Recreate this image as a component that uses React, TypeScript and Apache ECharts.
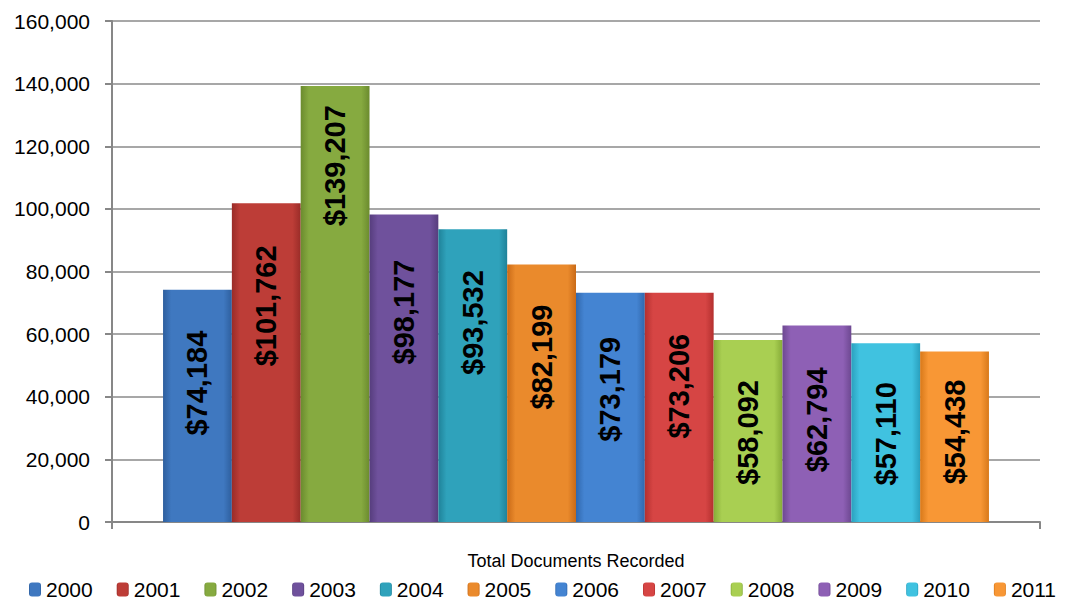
import React, { useEffect, useRef } from "react";
import * as echarts from "echarts";

const categories = ["Total Documents Recorded"];
const years = ["2000", "2001", "2002", "2003", "2004", "2005", "2006", "2007", "2008", "2009", "2010", "2011"];
const values = [74184, 101762, 139207, 98177, 93532, 82199, 73179, 73206, 58092, 62794, 57110, 54438];
const yTicks = { min: 0, max: 160000, interval: 20000 };

const barColors = [
  ["#2e5f9e", "#3f78c0"],
  ["#9a2c28", "#bd3d37"],
  ["#6b8b2e", "#86aa40"],
  ["#563d7d", "#6f519c"],
  ["#1f8299", "#2fa2bb"],
  ["#c96a17", "#ea8a2c"],
  ["#3168ad", "#4484d2"],
  ["#b4302f", "#d64544"],
  ["#86ab38", "#a9cf52"],
  ["#6d4891", "#8e60b5"],
  ["#2aa0be", "#40c2e0"],
  ["#d8791a", "#f89735"],
];
const labelDistances = [41, 42, 19, 45, 41, 40, 44, 41, 40, 42, 39, 28];

const FONT = "'Liberation Sans', Arial, sans-serif";

function grad(dark: string, light: string) {
  return new echarts.graphic.LinearGradient(0, 0, 1, 0, [
    { offset: 0, color: dark },
    { offset: 0.12, color: light },
    { offset: 0.88, color: light },
    { offset: 1, color: dark },
  ]);
}

export default function App() {
  const ref = useRef<HTMLDivElement>(null);
  useEffect(() => {
    document.body.style.margin = "0";
    if (!ref.current) return;
    const chart = echarts.init(ref.current, undefined, { renderer: "svg" });
    const series = years.map((y, i) => ({
      name: y,
      type: "bar",
      data: [values[i]],
      barGap: "0%",
      barCategoryGap: "11%",
      itemStyle: { color: grad(barColors[i][0], barColors[i][1]) },
      label: {
        show: true,
        position: "insideTop",
        distance: labelDistances[i],
        rotate: 90,
        align: "right",
        verticalAlign: "middle",
        color: "#000",
        fontFamily: FONT,
        fontWeight: "bold",
        fontSize: 29,
        formatter: (p: any) => "$" + Number(p.value).toLocaleString("en-US"),
      },
    }));
    chart.setOption({
      animation: false,
      grid: { left: 112, right: 30, top: 21, bottom: 80, containLabel: false },
      legend: {
        data: years,
        left: 24,
        top: 574,
        itemWidth: 12,
        itemHeight: 14,
        itemGap: 24,
        textStyle: { fontFamily: FONT, fontSize: 21, color: "#000" },
      },
      xAxis: {
        type: "category",
        data: categories,
        axisLine: { lineStyle: { color: "#878787", width: 2 } },
        axisTick: { show: true, length: 7, lineStyle: { color: "#878787", width: 2 } },
        axisLabel: { margin: 30, fontFamily: FONT, fontSize: 18, color: "#000" },
      },
      yAxis: {
        type: "value",
        min: yTicks.min,
        max: yTicks.max,
        interval: yTicks.interval,
        axisLine: { show: true, lineStyle: { color: "#878787", width: 2 } },
        axisTick: { show: true, length: 7, lineStyle: { color: "#878787", width: 2 } },
        splitLine: { lineStyle: { color: "#8a8a8a", width: 1.5 } },
        axisLabel: {
          margin: 22,
          fontFamily: FONT,
          fontSize: 21,
          color: "#000",
          formatter: (v: number) => v.toLocaleString("en-US"),
        },
      },
      series,
    });
    return () => chart.dispose();
  }, []);
  return <div ref={ref} style={{ width: 1070, height: 602 }} />;
}
